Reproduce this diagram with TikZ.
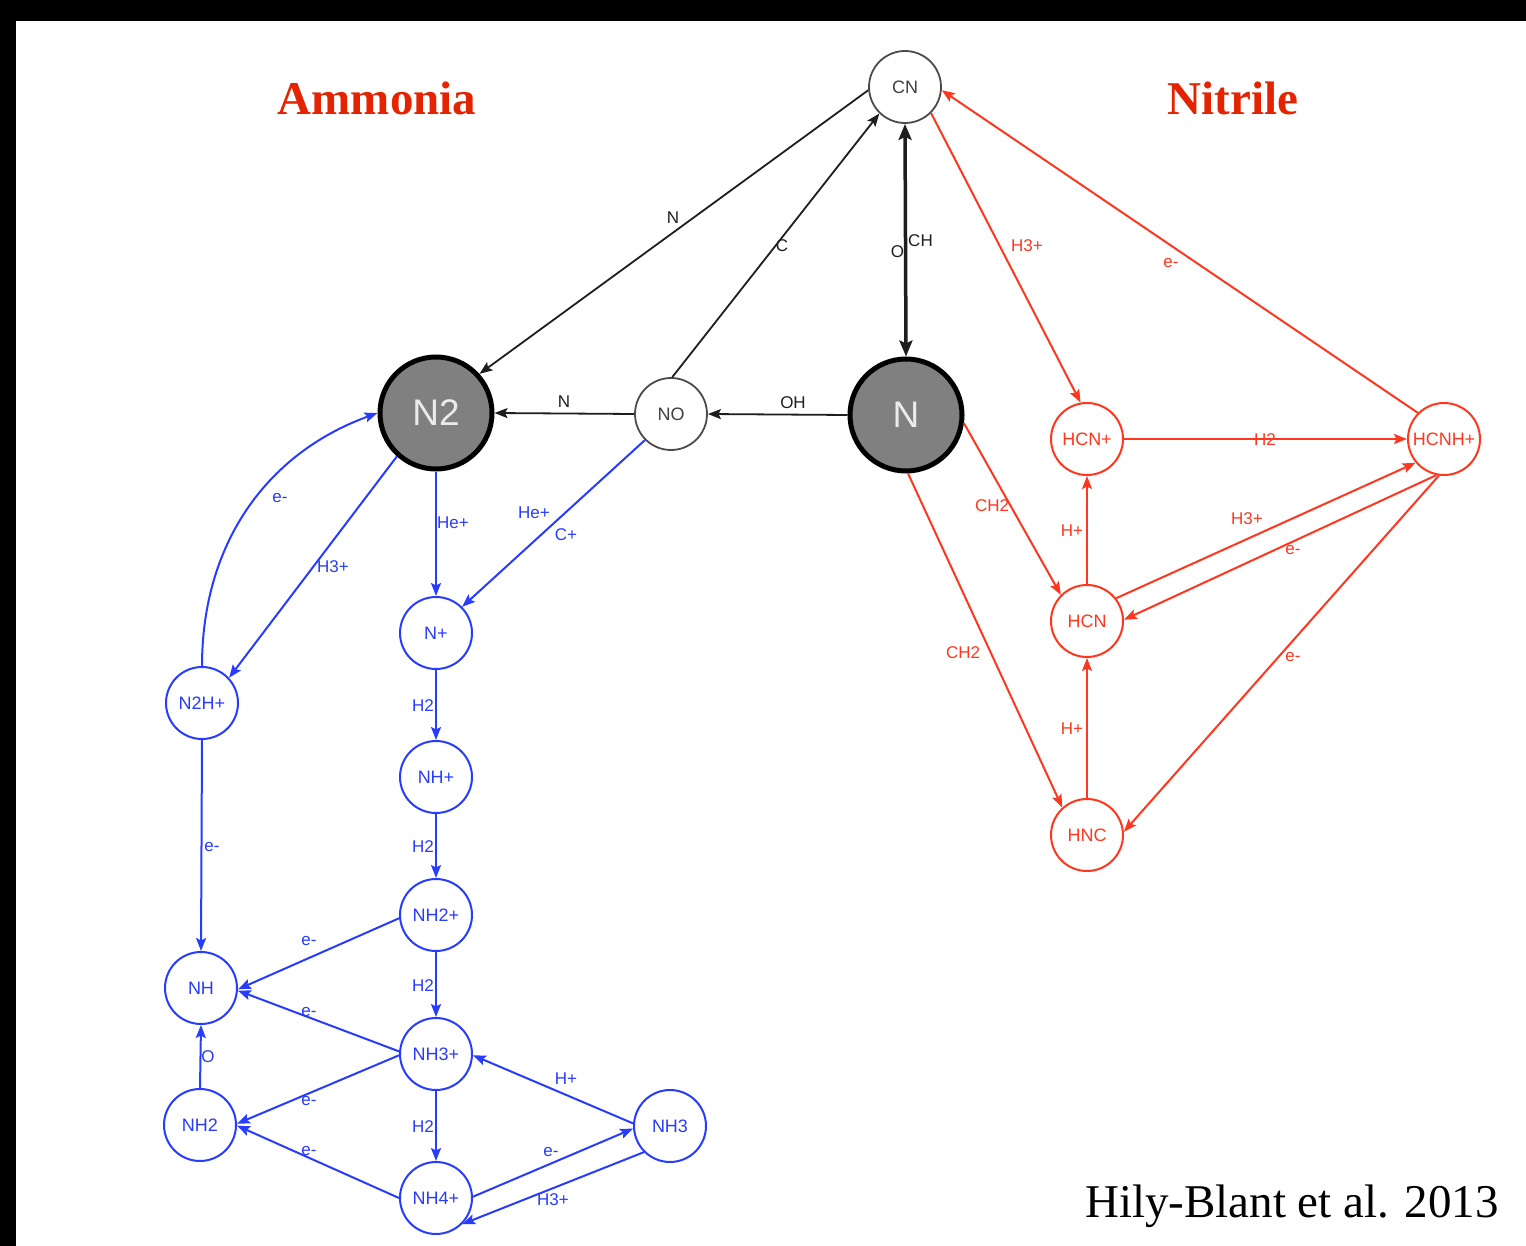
\documentclass[tikz,border=0pt]{standalone}
\usepackage{fontspec}
\setmainfont{Liberation Serif}
\setsansfont{Liberation Sans}
\usetikzlibrary{arrows.meta}
\definecolor{myblue}{RGB}{40,60,255}
\definecolor{myred}{RGB}{255,55,30}
\definecolor{titlered}{RGB}{228,36,0}
\definecolor{dk}{RGB}{30,30,30}
\definecolor{bigfill}{RGB}{128,128,128}
\begin{document}
\begin{tikzpicture}[x=1pt,y=-1pt,
  mol/.style={circle, draw, line width=2pt, minimum size=72pt, inner sep=0pt, font=\sffamily\fontsize{18}{18}\selectfont},
  bmol/.style={mol, draw=myblue, text=myblue},
  rmol/.style={mol, draw=myred, text=myred},
  kmol/.style={mol, draw=dk!80, text=dk!85, line width=1.8pt},
  big/.style={circle, draw=black, line width=5pt, fill=bigfill, minimum size=112pt, inner sep=0pt, text=white!92!black, font=\sffamily\fontsize{37}{37}\selectfont},
  lbl/.style={font=\sffamily\fontsize{17}{17}\selectfont, inner sep=0pt},
  arr/.style={-{Stealth[length=13pt,width=10pt,inset=2.5pt]}},
  bl/.style={arr, color=myblue, line width=2pt},
  rl/.style={arr, color=myred, line width=2pt},
  kl/.style={arr, color=dk, line width=1.8pt},
  title/.style={anchor=base, text=titlered, font=\bfseries\fontsize{47}{47}\selectfont},
]
\useasboundingbox (0,0) rectangle (1526,1246);
\fill[white] (0,0) rectangle (1526,1246);
\fill[black] (0,0) rectangle (1526,21);
\fill[black] (0,0) rectangle (16,1246);

% titles
\node[title] (tA) at (377,115) {Ammonia};
\node[title] (tN) at (1233,115) {Nitrile};
\node[anchor=base, font=\fontsize{47}{47}\selectfont] (ref) at (1292,1217) {Hily-Blant et al. 2013};

% nodes
\node[kmol] (CN) at (905,87) {CN};
\node[big] (N2) at (436,413) {N2};
\node[kmol] (NO) at (671,414) {NO};
\node[big] (N) at (906,415) {N};

\node[rmol] (HCNp) at (1087,439) {HCN+};
\node[rmol] (HCNHp) at (1444,439) {HCNH+};
\node[rmol] (HCN) at (1087,621) {HCN};
\node[rmol] (HNC) at (1087,835) {HNC};

\node[bmol] (Np) at (436,633) {N+};
\node[bmol] (NHp) at (436,777) {NH+};
\node[bmol] (NH2p) at (436,915) {NH2+};
\node[bmol] (NH3p) at (436,1054) {NH3+};
\node[bmol] (NH4p) at (436,1198) {NH4+};
\node[bmol] (NH3) at (670,1126) {NH3};
\node[bmol] (N2Hp) at (202,703) {N2H+};
\node[bmol] (NH) at (201,988) {NH};
\node[bmol] (NH2) at (200,1125) {NH2};

% black connectors
\draw[kl] (673,218) node[lbl]{N} (CN.185) -- (N2.42);
\draw[kl] (782,246) node[lbl]{C} (NO.88) -- (CN.226);
\draw[{Stealth[length=16pt,width=13pt,inset=3pt]}-{Stealth[length=16pt,width=13pt,inset=3pt]}, color=dk, line width=3.5pt]
  (CN.270) -- (N.90) node[lbl, pos=0.5, xshift=15pt]{CH} node[lbl, pos=0.55, xshift=-8pt]{O};
\draw[kl] (564,402) node[lbl]{N} (NO.180) -- (N2.0);
\draw[kl] (793,403) node[lbl]{OH} (N.180) -- (NO.0);

% red connectors
\draw[rl] (1027,246) node[lbl]{H3+} (CN.-45) -- (HCNp.100);
\draw[rl] (1171,263) node[lbl]{e-} (HCNHp.135) -- (CN.-5);
\draw[rl] (1265,440) node[lbl]{H2} (HCNp.0) -- (HCNHp.180);
\draw[rl] (1072,531) node[lbl]{H+} (HCN.90) -- (HCNp.270);
\draw[rl] (1247,519) node[lbl]{H3+} (HCN.38) -- (HCNHp.220);
\draw[rl] (1293,550) node[lbl]{e-} (HCNHp.258) -- (HCN.2);
\draw[rl] (1293,657) node[lbl]{e-} (HCNHp.262) -- (HNC.5);
\draw[rl] (992,506) node[lbl]{CH2} (N.-8) -- (HCN.135);
\draw[rl] (963,653) node[lbl]{CH2} (N.-88) -- (HNC.132);
\draw[rl] (1072,729) node[lbl]{H+} (HNC.90) -- (HCN.270);

% blue connectors
\draw[bl] (453,523) node[lbl]{He+} (N2.270) -- (Np.90);
\draw[bl] (534,513) node[lbl]{He+} (566,535) node[lbl]{C+} (NO.225) -- (Np.45);
\draw[bl] (333,567) node[lbl]{H3+} (N2.228) -- (N2Hp.43);
\draw[bl] (280,498) node[lbl]{e-} (N2Hp.90) to[out=90,in=200] (N2.180);
\draw[bl] (423,706) node[lbl]{H2} (Np.270) -- (NHp.90);
\draw[bl] (423,847) node[lbl]{H2} (NHp.270) -- (NH2p.90);
\draw[bl] (423,986) node[lbl]{H2} (NH2p.270) -- (NH3p.90);
\draw[bl] (423,1127) node[lbl]{H2} (NH3p.270) -- (NH4p.90);
\draw[bl] (212,847) node[lbl]{e-} (N2Hp.270) -- (NH.90);
\draw[bl] (309,941) node[lbl]{e-} (NH2p.185) -- (NH.-2);
\draw[bl] (309,1012) node[lbl]{e-} (NH3p.176) -- (NH.-4);
\draw[bl] (208,1057) node[lbl]{O} (NH2.90) -- (NH.270);
\draw[bl] (309,1101) node[lbl]{e-} (NH3p.182) -- (NH2.2);
\draw[bl] (309,1151) node[lbl]{e-} (NH4p.180) -- (NH2.-1);
\draw[bl] (566,1079) node[lbl]{H+} (NH3.176) -- (NH3p.-2);
\draw[bl] (551,1152) node[lbl]{e-} (NH4p.2) -- (NH3.184);
\draw[bl] (553,1200) node[lbl]{H3+} (NH3.225) -- (NH4p.-45);
\end{tikzpicture}
\end{document}
